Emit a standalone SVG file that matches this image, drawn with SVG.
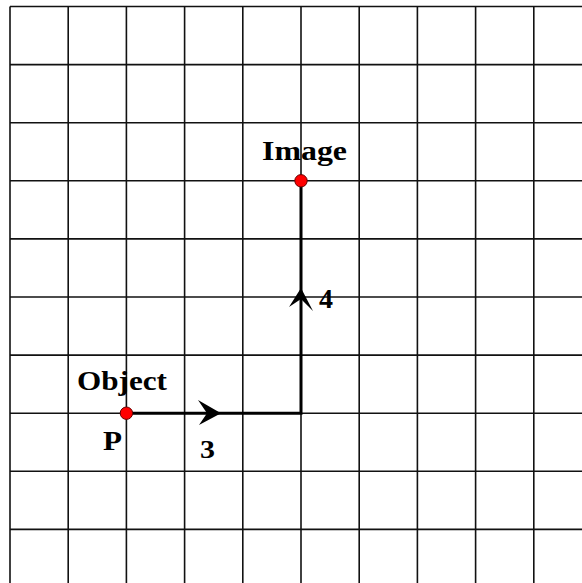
<svg xmlns="http://www.w3.org/2000/svg" width="582" height="583" viewBox="0 0 582 583">
<style>
.grid line{stroke:#111;stroke-width:1.6}
.path{stroke:#000;stroke-width:3;fill:none}
.lbl{font-family:"Liberation Serif","Times New Roman",serif;font-weight:bold;fill:#000}
.dot{fill:#ff0000;stroke:#600;stroke-width:1}
</style>
<rect width="582" height="583" fill="#fff"/>
<g id="grid" class="grid">
<line x1="10" y1="6.5" x2="10" y2="583"/>
<line x1="68.2" y1="6.5" x2="68.2" y2="583"/>
<line x1="126.4" y1="6.5" x2="126.4" y2="583"/>
<line x1="184.6" y1="6.5" x2="184.6" y2="583"/>
<line x1="242.8" y1="6.5" x2="242.8" y2="583"/>
<line x1="301" y1="6.5" x2="301" y2="583"/>
<line x1="359.2" y1="6.5" x2="359.2" y2="583"/>
<line x1="417.4" y1="6.5" x2="417.4" y2="583"/>
<line x1="475.6" y1="6.5" x2="475.6" y2="583"/>
<line x1="533.8" y1="6.5" x2="533.8" y2="583"/>
<line x1="10" y1="6.5" x2="582" y2="6.5"/>
<line x1="10" y1="64.6" x2="582" y2="64.6"/>
<line x1="10" y1="122.7" x2="582" y2="122.7"/>
<line x1="10" y1="180.8" x2="582" y2="180.8"/>
<line x1="10" y1="238.9" x2="582" y2="238.9"/>
<line x1="10" y1="297" x2="582" y2="297"/>
<line x1="10" y1="355.1" x2="582" y2="355.1"/>
<line x1="10" y1="413.2" x2="582" y2="413.2"/>
<line x1="10" y1="471.3" x2="582" y2="471.3"/>
<line x1="10" y1="529.4" x2="582" y2="529.4"/>
</g>
<g id="connectors">
<polyline class="path" points="126.4,413.2 301,413.2 301,180.8"/>
<polygon points="221,413.2 198,400 207,413.2 199,425" fill="#000"/>
<polygon points="301,288 289,307 301,299 313,311" fill="#000"/>
</g>
<g id="object">
<circle class="dot" cx="126.4" cy="413.2" r="6.2"/>
<text class="lbl" x="77" y="390" font-size="27" textLength="90" lengthAdjust="spacingAndGlyphs">Object</text>
<text class="lbl" x="103" y="450" font-size="28" textLength="19" lengthAdjust="spacingAndGlyphs">P</text>
</g>
<g id="image">
<circle class="dot" cx="301" cy="180.8" r="6.2"/>
<text class="lbl" x="262" y="160" font-size="27" textLength="85" lengthAdjust="spacingAndGlyphs">Image</text>
</g>
<g id="label-3">
<text class="lbl" x="200" y="458" font-size="26" textLength="15" lengthAdjust="spacingAndGlyphs">3</text>
</g>
<g id="label-4">
<text class="lbl" x="319" y="308" font-size="27" textLength="14" lengthAdjust="spacingAndGlyphs">4</text>
</g>
</svg>
